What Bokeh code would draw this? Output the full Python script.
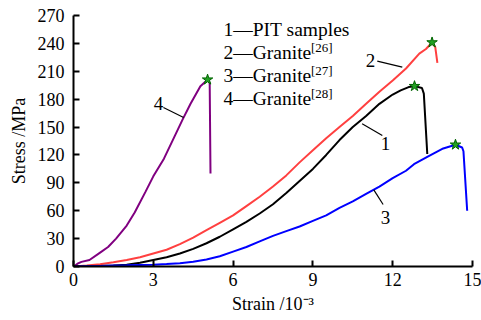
from bokeh.plotting import figure
from bokeh.models import Range1d, FixedTicker, Label
from bokeh.embed import file_html
from bokeh.resources import INLINE

# ---- data ----
pit_strain = [0, 0.5, 1, 1.5, 2, 2.5, 3, 3.5, 4, 4.5, 5, 5.5, 6, 6.5, 7, 7.5, 8, 8.5, 9, 9.5,
              10, 10.5, 11, 11.5, 12, 12.3, 12.6, 12.82, 13.1, 13.17, 13.3]
pit_stress = [0, 0.2, 0.5, 1, 2, 4, 7, 10, 14, 19, 25, 32, 40, 48, 57, 67, 79, 92, 105, 120,
              136, 150, 162, 175, 185, 189.5, 193, 194, 192, 186, 121]

g26_strain = [0, 0.5, 1, 1.5, 2, 2.5, 3, 3.5, 4, 4.5, 5, 5.5, 6, 6.5, 7, 7.5, 8, 8.5, 9, 9.5,
              10, 10.5, 11, 11.5, 12, 12.5, 13, 13.25, 13.48, 13.6, 13.68]
g26_stress = [0, 1, 2.5, 4.5, 7, 10, 14, 18, 24, 31, 39, 47, 55, 65, 75, 86, 98, 112, 125, 138,
              150, 162, 175, 188, 200, 213, 229, 234, 241, 236, 219]

g27_strain = [0, 0.5, 1, 1.5, 2, 2.5, 3, 3.5, 4, 4.5, 5, 5.5, 6, 6.5, 7, 7.5, 8, 8.5, 9, 9.5,
              10, 10.5, 11, 11.5, 12, 12.5, 12.8, 13.3, 13.9, 14.36, 14.61, 14.66, 14.8]
g27_stress = [0, 0.3, 0.6, 1, 1.3, 1.7, 2, 2.6, 3.5, 5, 7.5, 11, 16, 21, 27, 33, 38, 43, 49, 55,
              63, 70, 78, 86, 95, 103, 110, 118, 127, 131, 128, 124, 60]

g28_strain = [0, 0.15, 0.3, 0.6, 1.0, 1.3, 1.6, 2.0, 2.3, 2.7, 3.0, 3.4, 3.8, 4.1, 4.4, 4.77,
              5.04, 5.12, 5.15]
g28_stress = [0, 3, 5, 7, 15, 21, 30, 44, 58, 80, 97, 116, 140, 158, 175, 194,
              201, 197, 100]

peak_strain = [12.82, 13.48, 14.36, 5.04]
peak_stress = [194, 241, 131, 201]

x_ticks = [0, 3, 6, 9, 12, 15]
y_ticks = [0, 30, 60, 90, 120, 150, 180, 210, 240, 270]

x_title = "Strain /10\u207b\u00b3"
y_title = "Stress /MPa"

legend_lines = ["1\u2014PIT samples", "2\u2014Granite", "3\u2014Granite", "4\u2014Granite"]
legend_sups = ["", "[26]", "[27]", "[28]"]

curve_labels = ["1", "2", "3", "4"]
curve_label_x = [11.73, 11.17, 11.73, 3.20]
curve_label_y = [132.3, 221.6, 52.7, 175.3]
leader_x0 = [11.61, 11.42, 11.64, 3.38]
leader_y0 = [140.9, 220.9, 66.7, 171.0]
leader_x1 = [10.85, 12.36, 11.29, 4.14]
leader_y1 = [153.5, 214.4, 82.5, 160.3]

FONT = "Liberation Serif"

p = figure(width=481, height=320, output_backend="svg", toolbar_location=None,
           x_range=Range1d(0, 15), y_range=Range1d(0, 270),
           min_border_left=73, min_border_right=9, min_border_top=15, min_border_bottom=54)
p.outline_line_color = None
p.xgrid.visible = False
p.ygrid.visible = False
p.background_fill_color = "white"
p.border_fill_color = "white"

p.xaxis.ticker = FixedTicker(ticks=x_ticks)
p.yaxis.ticker = FixedTicker(ticks=y_ticks)
for ax in (p.xaxis, p.yaxis):
    ax.axis_line_width = 2
    ax.axis_line_color = "black"
    ax.major_tick_in = 6
    ax.major_tick_out = 0
    ax.major_tick_line_width = 2
    ax.minor_tick_in = 0
    ax.minor_tick_out = 0
    ax.major_label_text_font = FONT
    ax.major_label_text_font_size = "18px"
    ax.major_label_text_color = "black"
    ax.axis_label_text_font = FONT
    ax.axis_label_text_font_size = "18px"
    ax.axis_label_text_font_style = "normal"
    ax.axis_label_text_color = "black"
p.xaxis.axis_label = x_title
p.yaxis.axis_label = y_title
p.xaxis.major_label_standoff = 6
p.yaxis.major_label_standoff = 9
p.xaxis.axis_label_standoff = 5
p.yaxis.axis_label_standoff = 6

p.line(g28_strain, g28_stress, line_color="#800080", line_width=2)
p.line(g26_strain, g26_stress, line_color="#ff4040", line_width=2)
p.line(pit_strain, pit_stress, line_color="black", line_width=2)
p.line(g27_strain, g27_stress, line_color="#0000ff", line_width=2)

p.scatter(peak_strain, peak_stress, marker="star", size=11,
          fill_color="#22a022", line_color="#006400", line_width=1)

p.segment(leader_x0, leader_y0, leader_x1, leader_y1, line_color="black", line_width=1.2)
for t, x, y in zip(curve_labels, curve_label_x, curve_label_y):
    p.add_layout(Label(x=x, y=y, text=t, text_font=FONT, text_font_size="19px",
                       text_align="center", text_baseline="middle", text_color="black"))

# legend block (text)
leg_x = [5.64] * 4
leg_y = [254.6, 229.9, 205.1, 180.4]
sup_x = [8.93] * 4
sup_y = [y + 6.0 for y in leg_y]
for t, x, y in zip(legend_lines, leg_x, leg_y):
    p.add_layout(Label(x=x, y=y, text=t, text_font=FONT, text_font_size="19.5px",
                       text_align="left", text_baseline="alphabetic", text_color="black"))
for t, x, y in zip(legend_sups, sup_x, sup_y):
    if t:
        p.add_layout(Label(x=x, y=y, text=t, text_font=FONT, text_font_size="13px",
                           text_align="left", text_baseline="alphabetic", text_color="black"))

open("out.html", "w").write(file_html(p, INLINE))
